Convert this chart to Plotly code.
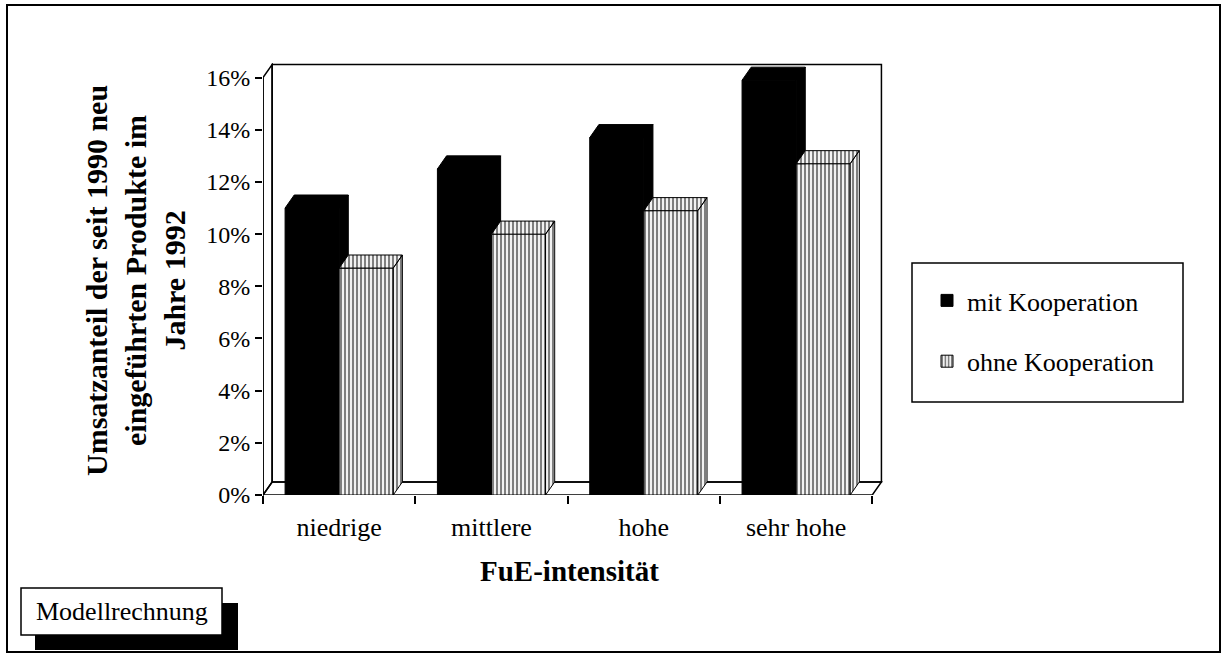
import plotly.graph_objects as go

# ---- data ----
categories = ["niedrige", "mittlere", "hohe", "sehr hohe"]
mit_kooperation = [11.0, 12.5, 13.7, 15.9]
ohne_kooperation = [8.7, 10.0, 10.9, 12.7]
ytick_vals = [0, 2, 4, 6, 8, 10, 12, 14, 16]
ytick_text = ["0%", "2%", "4%", "6%", "8%", "10%", "12%", "14%", "16%"]
series_names = ["mit Kooperation", "ohne Kooperation"]

# ---- geometry / style ----
W = 0.355          # bar width (category units)
DX, DY = 0.06, 0.5  # pseudo-3D depth offset (x units, y units)
X0, X1 = -0.5, 3.5 + DX + 0.03
Y0, Y1 = 0, 16 + DY + 0.06
W_PX, H_PX = 1226, 656
ML, MR, MT, MB = 263, 340, 63, 161
PW, PH = W_PX - ML - MR, H_PX - MT - MB
SERIF = "Liberation Serif"

def px(x):
    return (x - ML) / PW

def py(y):
    return (H_PX - MB - y) / PH

idx = list(range(len(categories)))

pattern = dict(shape="|", fgcolor="black", bgcolor="white", size=4, solidity=0.55)

def poly(points_list):
    xs, ys = [], []
    for pts in points_list:
        for (a, b) in pts:
            xs.append(a); ys.append(b)
        xs.append(pts[0][0]); ys.append(pts[0][1])
        xs.append(None); ys.append(None)
    return xs, ys

fig = go.Figure()

# front faces
fig.add_trace(go.Bar(x=idx, y=mit_kooperation, offset=-W, width=W, name=series_names[0],
                     marker=dict(color="black", line=dict(color="black", width=1)),
                     legendgroup="a"))
fig.add_trace(go.Bar(x=idx, y=ohne_kooperation, offset=0, width=W, name=series_names[1],
                     marker=dict(color="white", pattern=pattern, line=dict(color="black", width=1)),
                     legendgroup="b"))

# black bars: top + visible side faces
tops, sides = [], []
for i, (v, v2) in enumerate(zip(mit_kooperation, ohne_kooperation)):
    a, b = i - W, i
    tops.append([(a, v), (b, v), (b + DX, v + DY), (a + DX, v + DY)])
    sides.append([(b, v2), (b, v), (b + DX, v + DY), (b + DX, v2)])
xs, ys = poly(tops + sides)
fig.add_trace(go.Scatter(x=xs, y=ys, mode="lines", fill="toself", fillcolor="black",
                         line=dict(color="black", width=1), showlegend=False, hoverinfo="skip"))

# hatched bars: top + side faces
tops, sides = [], []
for i, v in enumerate(ohne_kooperation):
    a, b = i, i + W
    tops.append([(a, v), (b, v), (b + DX, v + DY), (a + DX, v + DY)])
    sides.append([(b, 0), (b, v), (b + DX, v + DY), (b + DX, DY)])
xs, ys = poly(tops + sides)
fig.add_trace(go.Scatter(x=xs, y=ys, mode="lines", fill="toself", fillcolor="white",
                         fillpattern=pattern,
                         line=dict(color="black", width=1), showlegend=False, hoverinfo="skip"))

L = dict(color="black", width=1.5)
fa, fb = -0.5, 3.5
shapes = [
    # back wall
    dict(type="rect", xref="x", yref="y", x0=fa + DX, x1=fb + DX, y0=DY, y1=16 + DY,
         line=L, layer="below"),
    # left wall
    dict(type="path", xref="x", yref="y",
         path=f"M{fa},0 L{fa},16 L{fa+DX},{16+DY} L{fa+DX},{DY} Z", line=L, layer="below"),
    # floor
    dict(type="path", xref="x", yref="y",
         path=f"M{fa},0 L{fb},0 L{fb+DX},{DY} L{fa+DX},{DY} Z", line=L, layer="below"),
    # y axis line (extends slightly below)
    dict(type="line", xref="x", yref="paper", x0=fa, x1=fa, y0=py(503), y1=py(495 - 16 * PH / (Y1 - Y0)), line=L),
    # outer frame
    dict(type="rect", xref="paper", yref="paper", x0=px(7), x1=px(1220), y0=py(652), y1=py(5),
         line=dict(color="black", width=2)),
    # legend box
    dict(type="rect", xref="paper", yref="paper", x0=px(912), x1=px(1183), y0=py(402), y1=py(263),
         line=dict(color="black", width=1.5), fillcolor="rgba(0,0,0,0)"),
    # Modellrechnung shadow and box
    dict(type="rect", xref="paper", yref="paper", x0=px(35), x1=px(238), y0=py(650), y1=py(603),
         line=dict(color="black", width=0), fillcolor="black"),
    dict(type="rect", xref="paper", yref="paper", x0=px(21), x1=px(222), y0=py(635), y1=py(588),
         line=dict(color="black", width=1.5), fillcolor="white"),
]

annotations = [
    dict(text="Umsatzanteil der seit 1990 neu<br>eingeführten Produkte im<br>Jahre 1992",
         xref="paper", yref="paper", x=px(135), y=py(281), xanchor="center", yanchor="middle",
         textangle=-90, showarrow=False,
         font=dict(family=SERIF, size=30, color="black", weight="bold"), align="center"),
    dict(text="FuE-intensität", xref="paper", yref="paper", x=px(569), y=py(571),
         xanchor="center", yanchor="middle",
         showarrow=False, font=dict(family=SERIF, size=29, color="black", weight="bold")),
    dict(text="Modellrechnung", xref="paper", yref="paper", x=px(121.5), y=py(611.5),
         xanchor="center", yanchor="middle",
         showarrow=False, font=dict(family=SERIF, size=26, color="black")),
]

fig.update_layout(
    width=W_PX, height=H_PX,
    margin=dict(l=ML, r=MR, t=MT, b=MB),
    paper_bgcolor="white", plot_bgcolor="white",
    barmode="overlay",
    font=dict(family=SERIF, color="black"),
    shapes=shapes, annotations=annotations,
    showlegend=True,
    legend=dict(x=px(927), y=py(277), xanchor="left", yanchor="top",
                bgcolor="rgba(0,0,0,0)", borderwidth=0,
                font=dict(family=SERIF, size=26, color="black"),
                tracegroupgap=24, traceorder="grouped"),
    xaxis=dict(range=[X0, X1], tickvals=idx, ticktext=categories, ticks="",
               showgrid=False, zeroline=False, showline=False,
               tickfont=dict(family=SERIF, size=26, color="black"),
               ticklabelstandoff=14,
               minor=dict(tickvals=[-0.5, 0.5, 1.5, 2.5, 3.5], ticks="outside", ticklen=8,
                          tickwidth=1.5, tickcolor="black", showgrid=False)),
    yaxis=dict(range=[Y0, Y1], tickvals=ytick_vals, ticktext=ytick_text, ticks="outside",
               ticklen=7, tickwidth=1.5, tickcolor="black",
               showgrid=False, zeroline=False, showline=False,
               tickfont=dict(family=SERIF, size=24, color="black")),
)

fig.write_html("out.html", config={"displayModeBar": False},
               post_script="document.body.style.margin='0';")
